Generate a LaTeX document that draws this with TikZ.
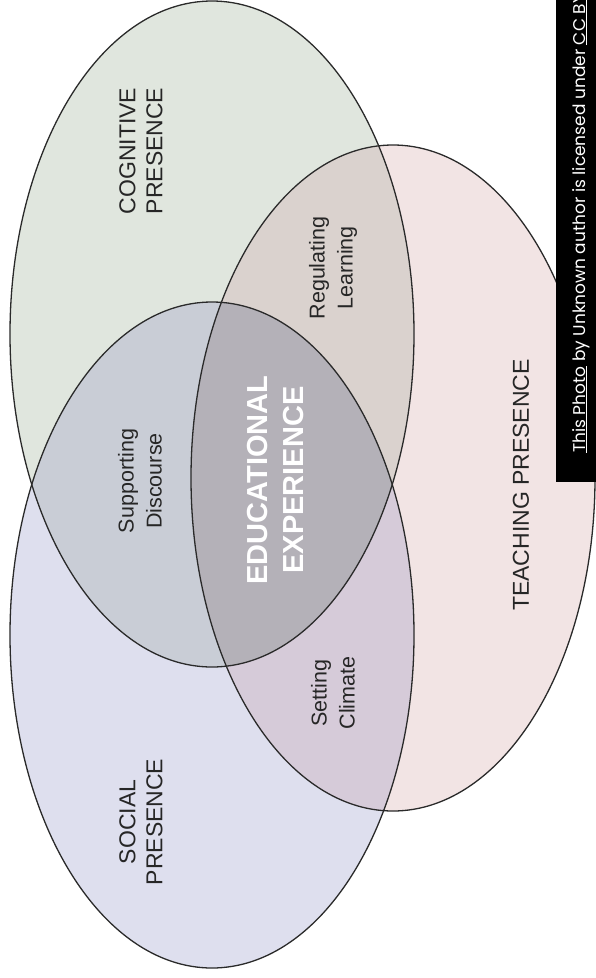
\documentclass[tikz,border=0pt]{standalone}
\usepackage{fontspec}
\setmainfont{Liberation Sans}
\newfontfamily\notefont{Poppins}
\definecolor{cogfill}{HTML}{E0E6DE}
\definecolor{socfill}{HTML}{DEDFEE}
\definecolor{teafill}{HTML}{F2E4E4}
\definecolor{ctfill}{HTML}{DAD2CE}
\definecolor{csfill}{HTML}{C9CDD6}
\definecolor{stfill}{HTML}{D6CBD9}
\definecolor{allfill}{HTML}{B4B1B8}
\definecolor{rimcol}{HTML}{2A2A2A}
\def\ovalx{202}
\def\ovaly{333}
\tikzset{
  rim/.style={draw=rimcol,line width=1.3pt},
  bigtext/.style={rotate=90,align=center,text=black!85,
    font=\fontsize{23}{27}\selectfont},
  smalltext/.style={rotate=90,align=center,text=black!85,
    font=\fontsize{21.5}{28}\selectfont},
}
\begin{document}
\begin{tikzpicture}[x=1pt,y=-1pt]
\useasboundingbox (0,0) rectangle (596,978);
\clip (0,0) rectangle (596,978);
\coordinate (C) at (212,334);
\coordinate (S) at (212,635);
\coordinate (T) at (393,478);
% single presences
\fill[cogfill] (C) ellipse[x radius=\ovalx,y radius=\ovaly];
\fill[socfill] (S) ellipse[x radius=\ovalx,y radius=\ovaly];
\fill[teafill] (T) ellipse[x radius=\ovalx,y radius=\ovaly];
% pairwise overlaps
\begin{scope}
\clip (C) ellipse[x radius=\ovalx,y radius=\ovaly];
\fill[ctfill] (T) ellipse[x radius=\ovalx,y radius=\ovaly];
\fill[csfill] (S) ellipse[x radius=\ovalx,y radius=\ovaly];
\end{scope}
\begin{scope}
\clip (S) ellipse[x radius=\ovalx,y radius=\ovaly];
\fill[stfill] (T) ellipse[x radius=\ovalx,y radius=\ovaly];
\clip (C) ellipse[x radius=\ovalx,y radius=\ovaly];
\fill[allfill] (T) ellipse[x radius=\ovalx,y radius=\ovaly];
\end{scope}
% outlines
\draw[rim] (C) ellipse[x radius=\ovalx,y radius=\ovaly];
\draw[rim] (S) ellipse[x radius=\ovalx,y radius=\ovaly];
\draw[rim] (T) ellipse[x radius=\ovalx,y radius=\ovaly];
% labels
\node[bigtext] (cogtext) at (141,151) {COGNITIVE\\PRESENCE};
\node[bigtext] (soctext) at (141,822) {SOCIAL\\PRESENCE};
\node[bigtext] (teatext) at (521,485) {TEACHING PRESENCE};
\node[smalltext] (regtext) at (333,268) {Regulating\\Learning};
\node[smalltext] (suptext) at (140,481) {Supporting\\Discourse};
\node[smalltext] (settext) at (333,693) {Setting\\Climate};
\node[rotate=90,align=center,text=white,
  font=\bfseries\fontsize{29}{36}\selectfont] (edutext) at (276,480)
  {EDUCATIONAL\\EXPERIENCE};
% credit strip
\fill[black] (556,0) rectangle (596,482);
\node[rotate=90,anchor=base west,inner sep=0pt,text=white,
  font=\notefont\fontsize{17}{19}\selectfont] (credit) at (585,453)
  {\underline{This Photo} by Unknown author is licensed under \underline{CC BY-SA}};
\end{tikzpicture}
\end{document}
